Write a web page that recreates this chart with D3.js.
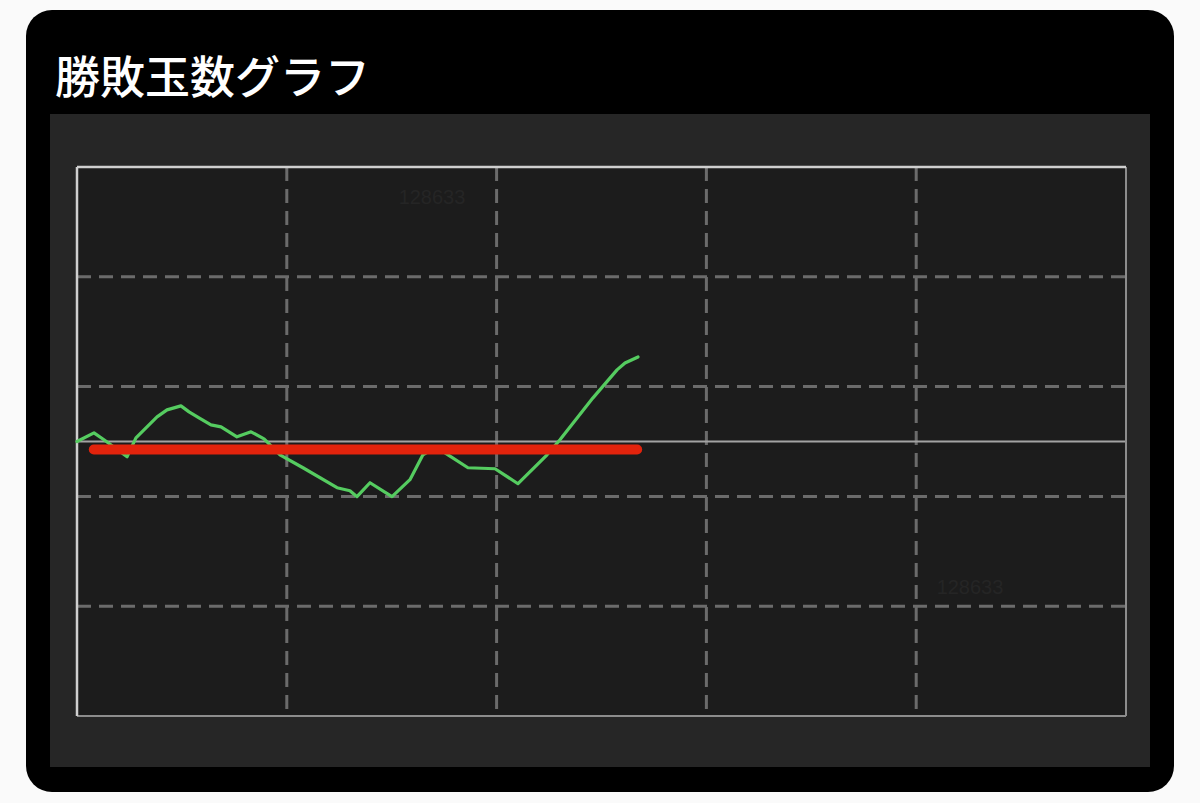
<!DOCTYPE html>
<html><head><meta charset="utf-8">
<script src="https://cdn.jsdelivr.net/npm/d3@7"></script>
<style>
html,body{margin:0;padding:0;background:#fafafa;}
svg{display:block;}
</style></head>
<body>
<svg id="c" width="1200" height="803"></svg>
<script>
// ---- data ----
const title = "勝敗玉数グラフ";
const watermark = "128633";
const xDomain = [0, 10000];
const yDomain = [-5000, 5000];
const xGridValues = [2000, 4000, 6000, 8000];
const yGridValues = [-3000, -1000, 1000, 3000];
const spins = [0, 162, 257, 477, 562, 763, 858, 991, 1068, 1163, 1277, 1373, 1525, 1659, 1783, 1935, 2154, 2479, 2602, 2669, 2793, 3003, 3174, 3298, 3422, 3537, 3727, 3985, 4204, 4481, 4604, 4919, 5148, 5224, 5348];
const balls = [0, 158, 31, -278, 67, 449, 576, 649, 540, 431, 304, 267, 85, 176, 49, -242, -478, -842, -896, -1005, -751, -1005, -696, -242, -100, -242, -478, -496, -769, -242, 31, 795, 1304, 1431, 1540];
const refSpins = [160, 5340];
const refBalls = [-145, -145];

// ---- layout ----
const svg = d3.select("#c");
const P = {l: 77, r: 1126, t: 167, b: 716};
const x = d3.scaleLinear().domain(xDomain).range([P.l, P.r]);
const y = d3.scaleLinear().domain(yDomain).range([P.b, P.t]);

svg.append("rect").attr("x", 26).attr("y", 10).attr("width", 1148).attr("height", 782)
  .attr("rx", 26).attr("fill", "#000");
svg.append("text").attr("x", 55).attr("y", 94).text(title)
  .attr("font-family", "'Noto Sans CJK JP', sans-serif").attr("font-size", 45)
  .attr("font-weight", 500).attr("fill", "#fff");
svg.append("rect").attr("x", 50).attr("y", 114).attr("width", 1100).attr("height", 653)
  .attr("fill", "#262626");
svg.append("rect").attr("x", P.l).attr("y", P.t).attr("width", P.r - P.l).attr("height", P.b - P.t)
  .attr("fill", "#1c1c1c");

// watermarks
const wm = [[432, 204], [970, 594]];
svg.selectAll("text.wm").data(wm).join("text").attr("class", "wm")
  .attr("x", d => d[0]).attr("y", d => d[1]).attr("text-anchor", "middle")
  .attr("font-family", "Liberation Sans, Arial, sans-serif").attr("font-size", 20)
  .attr("fill", "#252525").text(watermark);

// grid
const g = svg.append("g");
g.selectAll("line.vx").data(xGridValues).join("line")
  .attr("x1", d => x(d)).attr("x2", d => x(d)).attr("y1", P.t).attr("y2", P.b)
  .attr("stroke", "#6b6b6b").attr("stroke-width", 3).attr("stroke-dasharray", "14,8");
g.selectAll("line.hy").data(yGridValues).join("line")
  .attr("y1", d => y(d)).attr("y2", d => y(d)).attr("x1", P.l).attr("x2", P.r)
  .attr("stroke", "#6b6b6b").attr("stroke-width", 3).attr("stroke-dasharray", "14,8");
// zero line
g.append("line").attr("x1", P.l).attr("x2", P.r).attr("y1", y(0)).attr("y2", y(0))
  .attr("stroke", "#a3a3a3").attr("stroke-width", 2.2);

// border
svg.append("line").attr("x1", P.r).attr("x2", P.r).attr("y1", P.t).attr("y2", P.b)
  .attr("stroke", "#8c8c8c").attr("stroke-width", 2);
svg.append("line").attr("x1", P.l).attr("x2", P.r).attr("y1", P.b).attr("y2", P.b)
  .attr("stroke", "#8c8c8c").attr("stroke-width", 2);
svg.append("line").attr("x1", P.l).attr("x2", P.r).attr("y1", P.t).attr("y2", P.t)
  .attr("stroke", "#cfcfcf").attr("stroke-width", 2.5);
svg.append("line").attr("x1", P.l).attr("x2", P.l).attr("y1", P.t).attr("y2", P.b)
  .attr("stroke", "#cfcfcf").attr("stroke-width", 2.5);

// series
const pts = spins.map((s, i) => [s, balls[i]]);
const line = d3.line().x(d => x(d[0])).y(d => y(d[1]));
svg.append("path").datum(pts).attr("d", line).attr("fill", "none")
  .attr("stroke", "#55cc60").attr("stroke-width", 3.2).attr("stroke-linejoin", "round")
  .attr("stroke-linecap", "round");

const ref = refSpins.map((s, i) => [s, refBalls[i]]);
svg.append("path").datum(ref).attr("d", line).attr("fill", "none")
  .attr("stroke", "#e2230c").attr("stroke-width", 10).attr("stroke-linecap", "round");
</script>
</body></html>
